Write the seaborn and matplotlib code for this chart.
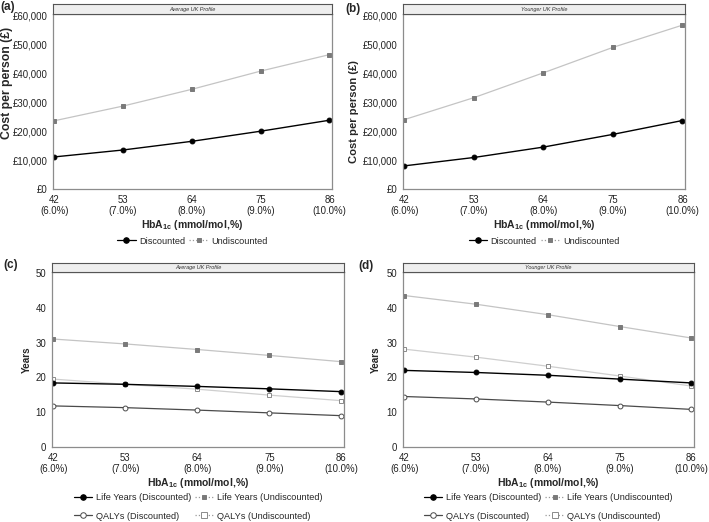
import matplotlib
matplotlib.use("Agg")
import matplotlib.pyplot as plt
from matplotlib.lines import Line2D
import seaborn as sns
import pandas as pd

sns.set_theme(style="white")
plt.rcParams["font.family"] = ["Liberation Sans", "DejaVu Sans"]
plt.rcParams["mathtext.fontset"] = "custom"
plt.rcParams["mathtext.rm"] = "Liberation Sans"
plt.rcParams["mathtext.bf"] = "Liberation Sans:bold"

# ── data ──
hba1c = [42, 53, 64, 75, 86]
hba1c_labels = ["42\n(6.0%)", "53\n(7.0%)", "64\n(8.0%)", "75\n(9.0%)", "86\n(10.0%)"]

cost_avg_disc = [11100, 13500, 16500, 20000, 23800]
cost_avg_undisc = [23600, 28700, 34500, 40800, 46500]
cost_young_disc = [8000, 10900, 14500, 18900, 23700]
cost_young_undisc = [24000, 31600, 40200, 49000, 56700]

ly_avg_disc = [18.4, 18.0, 17.4, 16.7, 15.9]
ly_avg_undisc = [31.0, 29.6, 28.0, 26.3, 24.5]
qaly_avg_disc = [11.8, 11.3, 10.6, 9.8, 9.0]
qaly_avg_undisc = [19.5, 18.0, 16.6, 14.9, 13.3]

ly_young_disc = [22.0, 21.4, 20.6, 19.5, 18.4]
ly_young_undisc = [43.5, 41.0, 38.0, 34.6, 31.3]
qaly_young_disc = [14.5, 13.8, 12.9, 11.9, 10.8]
qaly_young_undisc = [28.1, 25.8, 23.2, 20.4, 17.5]

# styles per series
STYLES = {
    "Discounted": dict(color="black", marker="o", mfc="black", mec="black", ms=3.5, lw=1.0),
    "Undiscounted": dict(color="#c4c4c4", marker="s", mfc="#7a7a7a", mec="#7a7a7a", ms=2.5, lw=0.9),
    "Life Years (Discounted)": dict(color="black", marker="o", mfc="black", mec="black", ms=3.5, lw=1.0),
    "Life Years (Undiscounted)": dict(color="#c4c4c4", marker="s", mfc="#7a7a7a", mec="#7a7a7a", ms=2.5, lw=0.9),
    "QALYs (Discounted)": dict(color="#4a4a4a", marker="o", mfc="white", mec="#4a4a4a", ms=3.5, lw=0.9),
    "QALYs (Undiscounted)": dict(color="#cfcfcf", marker="s", mfc="white", mec="#8a8a8a", ms=3.5, lw=0.9),
}

W, H = 709, 522
fig = plt.figure(figsize=(W / 100, H / 100), dpi=100)


def px_axes(left, right, top, bottom):
    return fig.add_axes([left / W, 1 - bottom / H, (right - left) / W, (bottom - top) / H])


def strip(left, right, top, bottom, text):
    s = px_axes(left, right, top, bottom)
    s.set_facecolor("#eeeeee")
    s.set_xticks([])
    s.set_yticks([])
    for sp in s.spines.values():
        sp.set_color("#555555")
        sp.set_linewidth(0.8)
    s.text(0.5, 0.5, text, ha="center", va="center", fontsize=4, style="italic", color="#333333")


def panel(box, strip_top, title, series, ylim, yticks, yfmt, ylabel, ylab_size, ylab_x, ylab_y,
          legend_order, legend_y):
    left, right, top, bottom = box
    ax = px_axes(left, right, top, bottom)
    strip(left, right, strip_top, top, title)
    for name, vals in series.items():
        st = STYLES[name]
        df = pd.DataFrame({"x": hba1c, "y": vals})
        sns.lineplot(data=df, x="x", y="y", ax=ax, color=st["color"], lw=st["lw"],
                     marker=st["marker"], markersize=st["ms"], markerfacecolor=st["mfc"],
                     markeredgecolor=st["mec"], markeredgewidth=0.7)
    ax.set_xlim(41.8, 86.4)
    ax.set_ylim(*ylim)
    ax.set_xticks(hba1c)
    ax.set_xticklabels(hba1c_labels, fontsize=6.9, color="#222222", linespacing=1.15)
    ax.set_yticks(yticks)
    ax.set_yticklabels([yfmt(v) for v in yticks], fontsize=6.9, color="#222222")
    ax.tick_params(axis="both", length=1.5, width=0.6, color="#808080", pad=2.8)
    ax.tick_params(axis="y", pad=2.5)
    for sp in ax.spines.values():
        sp.set_color("#8c8c8c")
        sp.set_linewidth(0.9)
    ax.set_xlabel(r"HbA$_{\mathbf{1c}}$ (mmol/mol,%)", fontsize=7.5, fontweight="bold")
    ax.xaxis.label.set_va("center")
    ax.xaxis.set_label_coords(0.5, -36 / (bottom - top))
    ax.set_ylabel(ylabel, fontsize=ylab_size, fontweight="bold")
    ax.yaxis.label.set_va("center")
    ax.yaxis.set_label_coords((ylab_x - left) / (right - left), (bottom - ylab_y) / (bottom - top))

    handles = []
    for name in legend_order:
        st = STYLES[name]
        ls = ":" if "Undiscounted" in name else "-"
        handles.append(Line2D([], [], color=st["color"] if ls == "-" else "#9a9a9a", lw=0.9, ls=ls,
                              marker=st["marker"], ms=st["ms"] + 0.5, mfc=st["mfc"],
                              mec=st["mec"], mew=0.7))
    fig.legend(handles, legend_order, loc="center",
               bbox_to_anchor=((left + right) / 2 / W, 1 - legend_y / H),
               ncol=2, frameon=False, fontsize=6.6, handlelength=2.0,
               handletextpad=0.4, columnspacing=0.45, labelspacing=1.0, borderpad=0)
    return ax


money = lambda v: f"£{v:,.0f}"
years = lambda v: f"{v:.0f}"

panel((53, 332, 14, 189), 4, "Average UK Profile",
      {"Undiscounted": cost_avg_undisc, "Discounted": cost_avg_disc},
      (0, 60550), [0, 10000, 20000, 30000, 40000, 50000, 60000], money,
      "Cost per person (£)", 8.8, 7, 83, ["Discounted", "Undiscounted"], 241)
panel((403, 685, 14, 189), 4, "Younger UK Profile",
      {"Undiscounted": cost_young_undisc, "Discounted": cost_young_disc},
      (0, 60550), [0, 10000, 20000, 30000, 40000, 50000, 60000], money,
      "Cost per person (£)", 8.1, 354, 112, ["Discounted", "Undiscounted"], 241)

order4 = ["Life Years (Discounted)", "QALYs (Discounted)",
          "Life Years (Undiscounted)", "QALYs (Undiscounted)"]
panel((52, 344, 271.5, 447), 263, "Average UK Profile",
      {"Life Years (Undiscounted)": ly_avg_undisc, "QALYs (Undiscounted)": qaly_avg_undisc,
       "QALYs (Discounted)": qaly_avg_disc, "Life Years (Discounted)": ly_avg_disc},
      (0, 50.4), [0, 10, 20, 30, 40, 50], years,
      "Years", 7.2, 27, 360, order4, 507)
panel((403, 694, 271.5, 447), 263, "Younger UK Profile",
      {"Life Years (Undiscounted)": ly_young_undisc, "QALYs (Undiscounted)": qaly_young_undisc,
       "QALYs (Discounted)": qaly_young_disc, "Life Years (Discounted)": ly_young_disc},
      (0, 50.4), [0, 10, 20, 30, 40, 50], years,
      "Years", 7.2, 376, 360, order4, 507)

# panel letters
for lab, x, y in [("(a)", 0, 7), ("(b)", 345, 9), ("(c)", 3, 265), ("(d)", 358, 266)]:
    fig.text(x / W, 1 - y / H, lab, fontsize=8.5, fontweight="bold", ha="left", va="center")

fig.savefig("out.png", dpi=100)
